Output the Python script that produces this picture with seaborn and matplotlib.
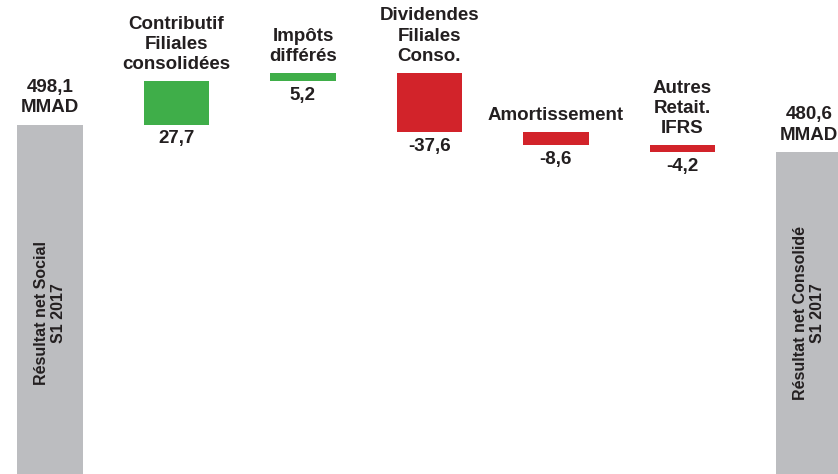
import matplotlib
matplotlib.use("Agg")
import matplotlib.pyplot as plt
import matplotlib.transforms as mtransforms
import seaborn as sns

# waterfall: Résultat social -> consolidé, S1 2017 (MMAD)
categories = ["Social", "Contributif", "Impots", "Dividendes", "Amortissement", "Autres", "Consolide"]
top_labels = ["498,1\nMMAD", "Contributif\nFiliales\nconsolidées", "Impôts\ndifférés",
              "Dividendes\nFiliales\nConso.", "Amortissement", "Autres\nRetait.\nIFRS", "480,6\nMMAD"]
value_labels = ["", "27,7", "5,2", "-37,6", "-8,6", "-4,2", ""]
inner_labels = ["Résultat net Social\nS1 2017", "", "", "", "", "", "Résultat net Consolidé\nS1 2017"]
start_value = 498.1
deltas = [27.7, 5.2, -37.6, -8.6, -4.2]

GREY = "#bcbdc0"
GREEN = "#3fae49"
RED = "#d2232a"
TXT = "#231f20"

# build bottoms / heights from the running total
bottoms = [0]
heights = [start_value]
colors = [GREY]
total = start_value
for d in deltas:
    bottoms.append(total if d > 0 else total + d)
    heights.append(abs(d))
    colors.append(GREEN if d > 0 else RED)
    total += d
bottoms.append(0)
heights.append(round(total, 1))
colors.append(GREY)

sns.set_style("white")
plt.rcParams["font.family"] = ["Liberation Sans", "DejaVu Sans"]

fig = plt.figure(figsize=(8.38, 4.74), dpi=100)
ax = fig.add_axes([0, 0, 1, 1])

sns.barplot(x=categories, y=heights, bottom=bottoms, color=GREY,
            width=0.52, saturation=1, linewidth=0, ax=ax)
for patch, c in zip(ax.patches, colors):
    patch.set_facecolor(c)
    patch.set_edgecolor(c)

ax.set_xlim(-0.395, 6.23)
ax.set_ylim(274.2, 578)
ax.axis("off")

for i, cat in enumerate(categories):
    top = bottoms[i] + heights[i]
    ax.annotate(top_labels[i], (i, top), xytext=(0, 6), textcoords="offset points",
                ha="center", va="bottom", fontsize=13.5, fontweight="bold", color=TXT,
                linespacing=1.25)
    if value_labels[i]:
        ax.annotate(value_labels[i], (i, bottoms[i]), xytext=(0, -4), textcoords="offset points",
                    ha="center", va="top", fontsize=13.5, fontweight="bold", color=TXT)

trans = mtransforms.blended_transform_factory(ax.transData, ax.transAxes)
for i, lab in enumerate(inner_labels):
    if lab:
        ax.text(i, 0.34, lab, transform=trans, rotation=90, ha="center", va="center",
                fontsize=11.5, fontweight="bold", color=TXT, linespacing=1.15)

fig.savefig("out.png", dpi=100)
